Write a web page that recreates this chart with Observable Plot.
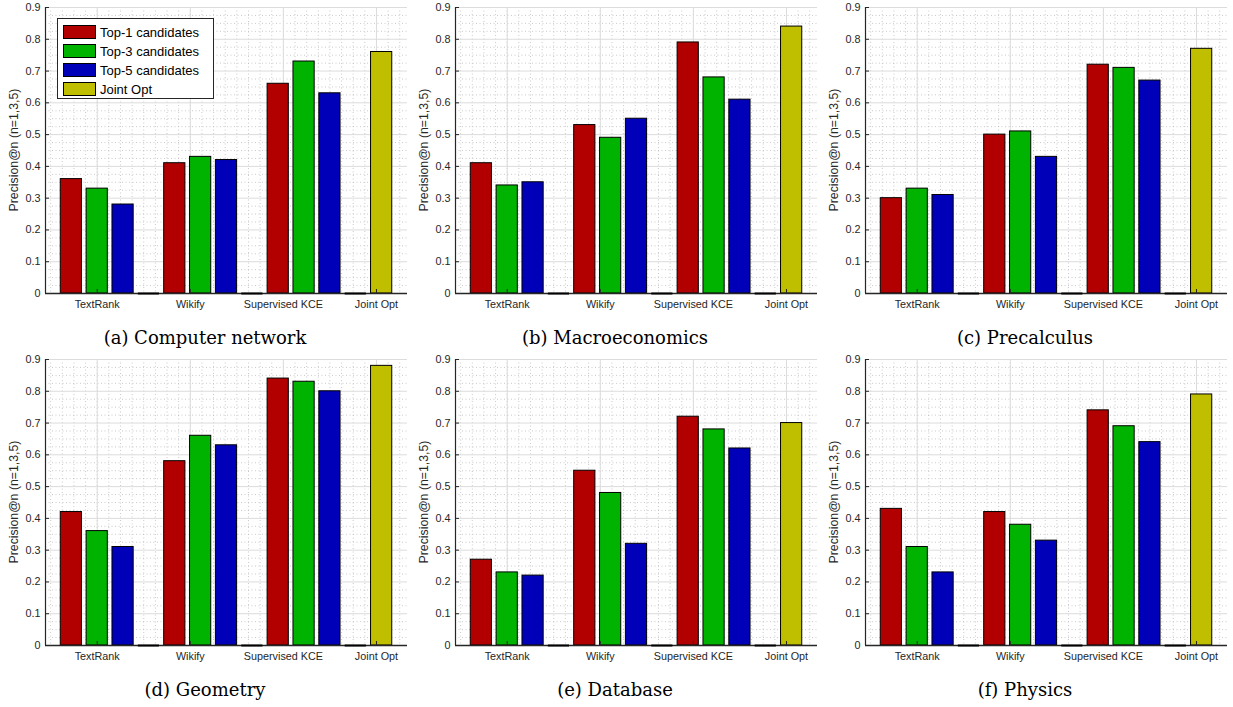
<!DOCTYPE html>
<html>
<head>
<meta charset="utf-8">
<script src="https://cdn.jsdelivr.net/npm/d3@7"></script>
<script src="https://cdn.jsdelivr.net/npm/@observablehq/plot@0.6"></script>
<style>
  body { margin: 0; background: #fff; }
  #root { position: relative; width: 1233px; height: 707px; overflow: hidden; background: #fff; font-family: "Liberation Sans", Arial, sans-serif; }
  .panel { position: absolute; }
  .caption { position: absolute; width: 410px; text-align: center; font-family: "DejaVu Serif", serif; font-size: 18px; line-height: 22px; color: #000; }
  .ylabel { position: absolute; width: 200px; text-align: center; font-size: 12.3px; line-height: 14px; color: #262626; transform: rotate(-90deg); transform-origin: center center; }
  .legend { position: absolute; background: #fff; border: 1px solid #262626; box-sizing: border-box; }
  .legend .row { position: absolute; left: 5px; height: 16px; display: flex; align-items: center; }
  .legend .sw { width: 33px; height: 14px; border: 1px solid #000; box-sizing: border-box; margin-right: 4px; }
  .legend .lt { font-size: 13px; color: #000; white-space: nowrap; }
</style>
</head>
<body>
<div id="root"></div>
<script>
// ---- data ----
const categories = ["TextRank", "Wikify", "Supervised KCE", "Joint Opt"];
const seriesNames = ["Top-1 candidates", "Top-3 candidates", "Top-5 candidates", "Joint Opt"];
const seriesColors = ["#b20000", "#00b300", "#0000b8", "#bfbf00"];
const panelTitles = ["(a) Computer network", "(b) Macroeconomics", "(c) Precalculus",
                     "(d) Geometry", "(e) Database", "(f) Physics"];
// values per panel, for TextRank, Wikify, Supervised KCE
const top1 = [[0.36, 0.41, 0.66], [0.41, 0.53, 0.79], [0.30, 0.50, 0.72],
              [0.42, 0.58, 0.84], [0.27, 0.55, 0.72], [0.43, 0.42, 0.74]];
const top3 = [[0.33, 0.43, 0.73], [0.34, 0.49, 0.68], [0.33, 0.51, 0.71],
              [0.36, 0.66, 0.83], [0.23, 0.48, 0.68], [0.31, 0.38, 0.69]];
const top5 = [[0.28, 0.42, 0.63], [0.35, 0.55, 0.61], [0.31, 0.43, 0.67],
              [0.31, 0.63, 0.80], [0.22, 0.32, 0.62], [0.23, 0.33, 0.64]];
const jointOpt = [0.76, 0.84, 0.77, 0.88, 0.70, 0.79];
const yTicks = [0, 0.1, 0.2, 0.3, 0.4, 0.5, 0.6, 0.7, 0.8, 0.9];
const yTickLabels = ["0", "0.1", "0.2", "0.3", "0.4", "0.5", "0.6", "0.7", "0.8", "0.9"];
const xTickPos = [2, 5.6, 9.2, 12.8];

// ---- layout ----
const W = 410, H = 313, ML = 45, MR = 3, MT = 7, MB = 20;
const colX = [0, 410, 820], rowY = [0, 352];
const yMinor = d3.range(0, 37).map(i => i * 0.025).filter(v => Math.abs(v * 10 - Math.round(v * 10)) > 1e-6);
const xMinor = d3.range(-4, 40).map(i => 2 + i * 0.45).filter(v => v > 0 && v < 14);

function rowsFor(p) {
  const rows = [];
  const sets = [top1[p], top3[p], top5[p]];
  for (let g = 0; g < 3; g++) {
    for (let s = 0; s < 3; s++) rows.push({slot: g * 4 + s + 1, series: seriesNames[s], value: sets[s][g]});
    rows.push({slot: g * 4 + 4, series: seriesNames[3], value: 0});
  }
  rows.push({slot: 13, series: seriesNames[3], value: jointOpt[p]});
  return rows;
}

const root = document.getElementById("root");
for (let p = 0; p < 6; p++) {
  const left = colX[p % 3], top = rowY[Math.floor(p / 3)];
  const rows = rowsFor(p);
  const chart = Plot.plot({
    width: W, height: H,
    marginLeft: ML, marginRight: MR, marginTop: MT, marginBottom: MB,
    style: {fontFamily: "'Liberation Sans', Arial, sans-serif", fontSize: "10.8px", color: "#262626", background: "white", overflow: "visible"},
    x: {domain: [0, 14], axis: null},
    y: {domain: [0, 0.9], axis: null},
    color: {domain: seriesNames, range: seriesColors},
    marks: [
      Plot.ruleY(yMinor, {stroke: "#bdbdbd", strokeDasharray: "1,2.5", strokeWidth: 0.8}),
      Plot.ruleX(xMinor, {stroke: "#bdbdbd", strokeDasharray: "1,2.5", strokeWidth: 0.8}),
      Plot.ruleY(yTicks.slice(1), {stroke: "#dcdcdc", strokeWidth: 1}),
      Plot.ruleX(xTickPos, {stroke: "#dcdcdc", strokeWidth: 1}),
      Plot.rect(rows.filter(d => d.value > 0), {
        x1: d => d.slot - 0.41, x2: d => d.slot + 0.41,
        y1: d => 0, y2: "value",
        fill: "series", stroke: "#000", strokeWidth: 1
      }),
      Plot.ruleX([0], {stroke: "#262626", strokeWidth: 1.2}),
      Plot.ruleY([0], {stroke: "#262626", strokeWidth: 1.4}),
      // zero-height bars drawn as their black outline
      Plot.ruleY(rows.filter(d => d.value === 0), {
        x1: d => d.slot - 0.41, x2: d => d.slot + 0.41, y: "value",
        stroke: "#000", strokeWidth: 2
      }),
      Plot.tickY(yTicks, {y: d => d, stroke: "#262626", insetRight: W - ML - MR - 4}),
      Plot.tickX(xTickPos, {x: d => d, stroke: "#262626", insetTop: H - MT - MB - 4}),
      Plot.axisY({ticks: yTicks, tickFormat: (d, i) => yTickLabels[i], tickSize: 0, tickPadding: 5, label: null, fill: "#262626"}),
      Plot.axisX({ticks: xTickPos, tickFormat: (d, i) => categories[i], tickSize: 0, tickPadding: 7, label: null, fill: "#262626"})
    ]
  });
  chart.classList.add("panel");
  chart.style.left = left + "px";
  chart.style.top = top + "px";
  root.appendChild(chart);

  const yl = document.createElement("div");
  yl.className = "ylabel";
  yl.textContent = "Precision@n (n=1,3,5)";
  yl.style.left = (left + 14 - 100) + "px";
  yl.style.top = (top + 150 - 7) + "px";
  root.appendChild(yl);

  const cap = document.createElement("div");
  cap.className = "caption";
  cap.textContent = panelTitles[p];
  cap.style.left = left + "px";
  cap.style.top = (top + 327) + "px";
  root.appendChild(cap);
}

// legend inside panel (a)
const lg = document.createElement("div");
lg.className = "legend";
lg.style.left = "57px"; lg.style.top = "18px"; lg.style.width = "157px"; lg.style.height = "81px";
seriesNames.forEach((name, i) => {
  const r = document.createElement("div");
  r.className = "row";
  r.style.top = (5 + i * 19) + "px";
  const sw = document.createElement("div");
  sw.className = "sw"; sw.style.background = seriesColors[i];
  const t = document.createElement("span");
  t.className = "lt"; t.textContent = name;
  r.appendChild(sw); r.appendChild(t);
  lg.appendChild(r);
});
root.appendChild(lg);
</script>
</body>
</html>
